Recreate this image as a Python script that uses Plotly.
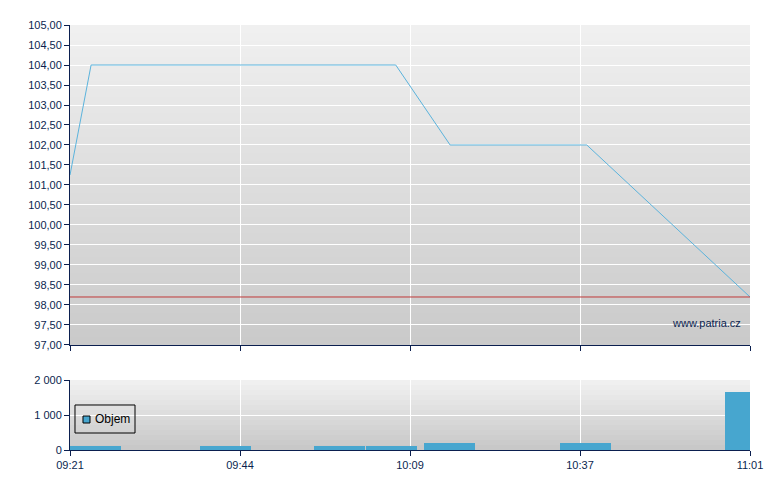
import plotly.graph_objects as go

# ---- data (x in axis position units 0..100, mapped to trading-time tick labels) ----
tick_pos = [0, 25, 50, 75, 100]
tick_labels = ["09:21", "09:44", "10:09", "10:37", "11:01"]

price_x = [0, 3.1, 47.9, 55.9, 76.0, 100]
price_y = [101.25, 104.0, 104.0, 102.0, 102.0, 98.2]
prev_close = 98.2

vol_name = "Objem"
vol_x = [0, 19.1, 35.9, 43.5, 52.1, 72.1, 96.3]
vol_y = [120, 120, 115, 110, 210, 210, 1660]

price_ticks = [97 + 0.5 * i for i in range(17)]
vol_ticks = [0, 1000, 2000]

NAVY = "#0b1f4f"
BLUE = "#47a6cf"
LINE_BLUE = "#5bb3dc"

fig = go.Figure()

fig.add_trace(go.Scatter(x=price_x, y=price_y, mode="lines",
                         line=dict(color=LINE_BLUE, width=1),
                         xaxis="x", yaxis="y", showlegend=False, hoverinfo="skip"))

fig.add_trace(go.Bar(x=vol_x, y=vol_y, width=7.5, offset=0, name=vol_name,
                     marker=dict(color=BLUE, line=dict(width=0)),
                     xaxis="x2", yaxis="y2", showlegend=False, hoverinfo="skip"))

shapes = []


def gradient(xref, yref, top_rgb, bot_rgb, n):
    out = []
    for i in range(n):
        t = i / (n - 1)
        c = [round(top_rgb[k] + (bot_rgb[k] - top_rgb[k]) * t) for k in range(3)]
        y1 = 1 - i / n
        y0 = max(0, 1 - (i + 1.6) / n)
        out.append(dict(type="rect", xref=xref, yref=yref, x0=0, x1=1,
                        y0=y0, y1=y1,
                        fillcolor="rgb(%d,%d,%d)" % tuple(c), line=dict(width=0),
                        layer="below"))
    return out


shapes += gradient("x domain", "y domain", (240, 240, 240), (202, 202, 202), 40)
shapes += gradient("x2 domain", "y2 domain", (240, 240, 240), (200, 200, 200), 14)

shapes.append(dict(type="line", xref="x domain", yref="y", x0=0, x1=1,
                   y0=prev_close, y1=prev_close,
                   line=dict(color="#c03a3a", width=1), layer="above"))

# legend box (drawn manually to match the compact original legend)
shapes.append(dict(type="rect", xref="paper", yref="paper",
                   x0=0.00735, x1=0.0956, y0=0.04, y1=0.1059,
                   line=dict(color="#000000", width=1), fillcolor="rgba(0,0,0,0)",
                   layer="above"))
shapes.append(dict(type="rect", xref="paper", yref="paper",
                   x0=0.0191, x1=0.0294, y0=0.0635, y1=0.08,
                   line=dict(color="#000000", width=1), fillcolor=BLUE,
                   layer="above"))

axis_common = dict(showline=True, linecolor=NAVY, linewidth=1,
                   ticks="outside", ticklen=5, tickcolor=NAVY,
                   showgrid=True, gridcolor="#ffffff", gridwidth=1,
                   zeroline=False, tickfont=dict(color=NAVY, size=11))

fig.update_layout(
    width=772, height=482,
    margin=dict(l=62, r=30, t=17, b=40),
    paper_bgcolor="#ffffff", plot_bgcolor="rgba(0,0,0,0)",
    font=dict(family="Liberation Sans, Arial, sans-serif", size=11, color=NAVY),
    separators=", ",
    shapes=shapes,
    showlegend=False,
    xaxis=dict(domain=[0, 1], anchor="y", range=[0, 100], tickvals=tick_pos,
               ticktext=tick_labels, showticklabels=False, **axis_common),
    yaxis=dict(domain=[0.2471, 1], anchor="x", range=[97, 105], tickvals=price_ticks,
               tickformat=",.2f", **axis_common),
    xaxis2=dict(domain=[0, 1], anchor="y2", range=[0, 100], tickvals=tick_pos,
                ticktext=tick_labels, **axis_common),
    yaxis2=dict(domain=[0, 0.1647], anchor="x2", range=[0, 2000], tickvals=vol_ticks,
                tickformat=",d", **axis_common),
    annotations=[
        dict(text="www.patria.cz", xref="paper", yref="paper",
             x=0.99, y=0.299, xanchor="right", yanchor="middle",
             showarrow=False, font=dict(size=11, color=NAVY)),
        dict(text=vol_name, xref="paper", yref="paper",
             x=0.0345, y=0.0725, xanchor="left", yanchor="middle",
             showarrow=False, font=dict(size=12, color="#000000")),
    ],
    bargap=0,
)

fig.write_html("out.html")
